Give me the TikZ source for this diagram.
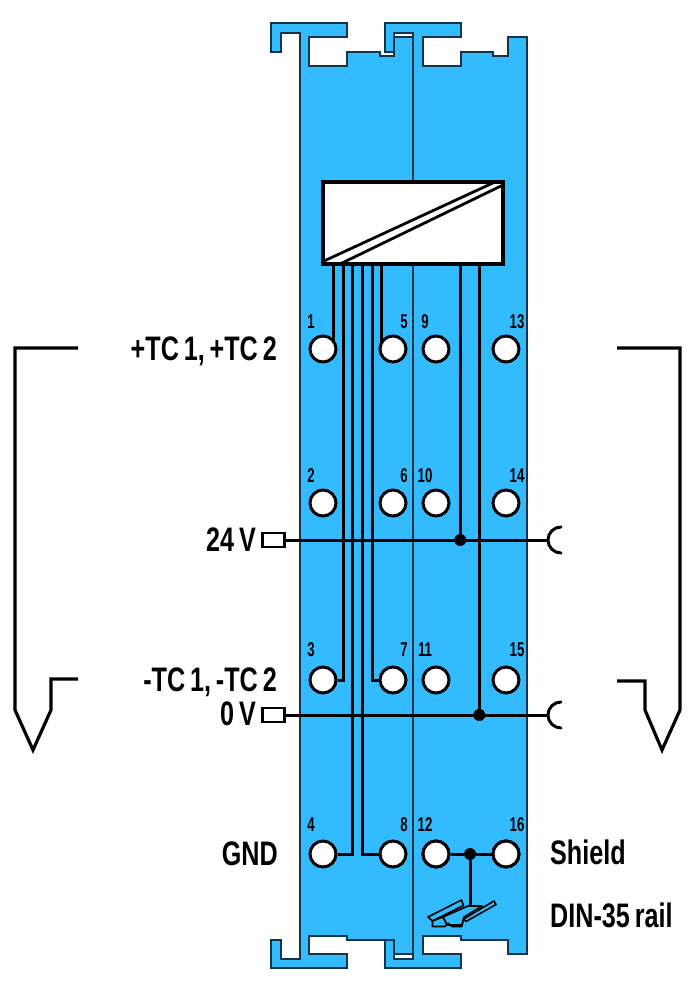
\documentclass[tikz,border=0pt]{standalone}
\usepackage{fontspec}
\setmainfont{Liberation Sans}
\newfontfamily\labfont{Liberation Sans}[FakeStretch=0.74,WordSpace=0.7]
\newfontfamily\numfont{Liberation Sans}[FakeStretch=0.66]
\definecolor{modblue}{HTML}{33BBFF}
\definecolor{modedge}{HTML}{14344A}
\tikzset{
  module/.style={fill=modblue,draw=modedge,line width=1.8pt,line join=miter},
  wire/.style={draw=black,line width=3pt},
  term/.style={circle,draw=black,fill=white,line width=3pt,minimum size=26pt,inner sep=0pt},
  pin/.style={draw=black,fill=white,line width=2.8pt,minimum width=22pt,minimum height=14pt,inner sep=0pt},
  dot/.style={circle,fill=black,minimum size=12pt,inner sep=0pt},
  tnum/.style={font=\numfont\fontsize{20}{20}\bfseries,inner sep=0pt,anchor=base},
  lab/.style={font=\labfont\fontsize{34}{34}\bfseries,inner sep=0pt},
  tc/.style={draw=black,line width=3.2pt,line join=miter},
}
\begin{document}
\begin{tikzpicture}[x=1pt,y=-1pt]
\useasboundingbox (0,0) rectangle (697,992);
% left module
\draw[module] (300,33) -- (281,33) -- (281,52) -- (271,52) -- (271,23) -- (347,23) -- (347,37) -- (309,37) -- (309,66) -- (347,66) -- (347,52) -- (380,52) -- (380,56) -- (394,56) -- (394,37) -- (413,37)
 -- (413,954) -- (394,954) -- (394,940) -- (347,940) -- (347,936) -- (309,936) -- (309,954) -- (347,954) -- (347,968) -- (271,968) -- (271,940) -- (281,940) -- (281,959) -- (300,959) -- cycle;
% right module
\draw[module] (413,33) -- (394,33) -- (394,52) -- (385,52) -- (385,23) -- (461,23) -- (461,37) -- (423,37) -- (423,66) -- (461,66) -- (461,52) -- (493,52) -- (493,56) -- (508,56) -- (508,37) -- (527,37)
 -- (527,954) -- (508,954) -- (508,940) -- (461,940) -- (461,936) -- (423,936) -- (423,954) -- (461,954) -- (461,968) -- (385,968) -- (385,940) -- (394,940) -- (394,959) -- (413,959) -- cycle;
% converter
\node[draw=black,fill=white,line width=3.2pt,minimum width=180pt,minimum height=82pt,inner sep=0pt] (conv) at (413,223) {};
\coordinate (dA) at (324,261);
\coordinate (dB) at (495,182);
\coordinate (dC) at (340,264);
\coordinate (dD) at (503,185);
\draw[line width=2.8pt] (dA) -- (dB);
\draw[line width=2.8pt] (dC) -- (dD);
% terminals
\foreach \n/\x/\y in {1/323/349,5/393/349,9/436/349,13/506/349,
                      2/323/503,6/393/503,10/436/503,14/506/503,
                      3/323/680,7/393/680,11/436/680,15/506/680,
                      4/323/854,8/393/854,12/436/854,16/506/854}
  \node[term] (t\n) at (\x,\y) {};
\foreach \n/\x/\y in {1/311/328,5/404/328,9/425/328,13/517/328,
                      2/311/482,6/404/482,10/425/482,14/517/482,
                      3/311/656,7/404/656,11/425/656,15/517/656,
                      4/311/831,8/404/831,12/425/831,16/517/831}
  \node[tnum] (n\n) at (\x,\y) {\n};
% wires from converter
\foreach \n/\x in {1/333.5,3/343.5,4/352.7,8/362.3,7/372,5/381.3,a/460.3,b/479.3}
  \coordinate (w\n) at (\x,264);
\draw[wire] (w1) -- (w1 |- t1.30);
\draw[wire] (w5) -- (w5 |- t5.160);
\draw[wire] (w3) |- (t3.east);
\draw[wire] (w7) |- (t7.west);
\draw[wire] (w4) |- (t4.east);
\draw[wire] (w8) |- (t8.west);
% supply lines
\node[pin] (p24) at (273.5,540) {};
\node[pin] (p0) at (273.5,715) {};
\coordinate (c24) at (548,540);
\coordinate (c0) at (548,715);
\draw[wire] (p24.east) -- (c24);
\draw[wire] (p0.east) -- (c0);
\draw[wire,line cap=round] (561,527) arc[start angle=270,end angle=90,radius=13];
\draw[wire,line cap=round] (561,702) arc[start angle=270,end angle=90,radius=13];
\node[dot] (j24) at (460.3,540) {};
\node[dot] (j0) at (479.3,715) {};
\draw[wire] (wa) -- (j24);
\draw[wire] (wb) -- (j0);
% shield
\node[dot] (js) at (470,854) {};
\draw[wire] (t12) -- (js) -- (t16);
\node[term] at (436,854) {};
\node[term] at (506,854) {};
\coordinate (railtop) at (470,908);
\draw[wire] (js) -- (railtop);
% DIN rail
\begin{scope}[line width=1.6pt,line join=round,draw=black]
\filldraw[fill=modblue] (443,917) -- (468,906) -- (482,906) -- (464,917) -- (462,925) -- (447,925) -- cycle;
\filldraw[fill=modblue] (428,917) -- (461.5,900) -- (463.5,905.5) -- (432.5,921) -- cycle;
\filldraw[fill=modblue] (463.5,919) -- (494,901) -- (496,904.5) -- (466,921.5) -- cycle;
\filldraw[fill=modblue] (432.5,921) -- (432.5,926.5) -- (445,926.5) -- (448.3,923.3) -- (451.7,926.5) -- (461.7,926.5) -- (463.5,919) -- (462,925) -- (447,925) -- (443,917) -- cycle;
\end{scope}
% thermocouples
\coordinate (la) at (78,348);
\coordinate (lb) at (78,679);
\coordinate (ra) at (617,348);
\coordinate (rb) at (617,681);
\draw[tc] (la) -- (15,348) -- (15,710) -- (33,750) -- (51,710) -- (51,679) -- (lb);
\draw[tc] (ra) -- (680,348) -- (680,710) -- (662,750) -- (645,710) -- (645,681) -- (rb);
% labels
\node[lab,anchor=base east] (l1) at (277,360) {+TC 1, +TC 2};
\node[lab,anchor=base east] (l2) at (256,551) {24 V};
\node[lab,anchor=base east] (l3) at (277,691) {-TC 1, -TC 2};
\node[lab,anchor=base east] (l4) at (256,725) {0 V};
\node[lab,anchor=base east] (l5) at (278,865) {GND};
\node[lab,anchor=base west] (l6) at (550,864) {Shield};
\node[lab,anchor=base west] (l7) at (550,927) {DIN-35 rail};
\end{tikzpicture}
\end{document}
